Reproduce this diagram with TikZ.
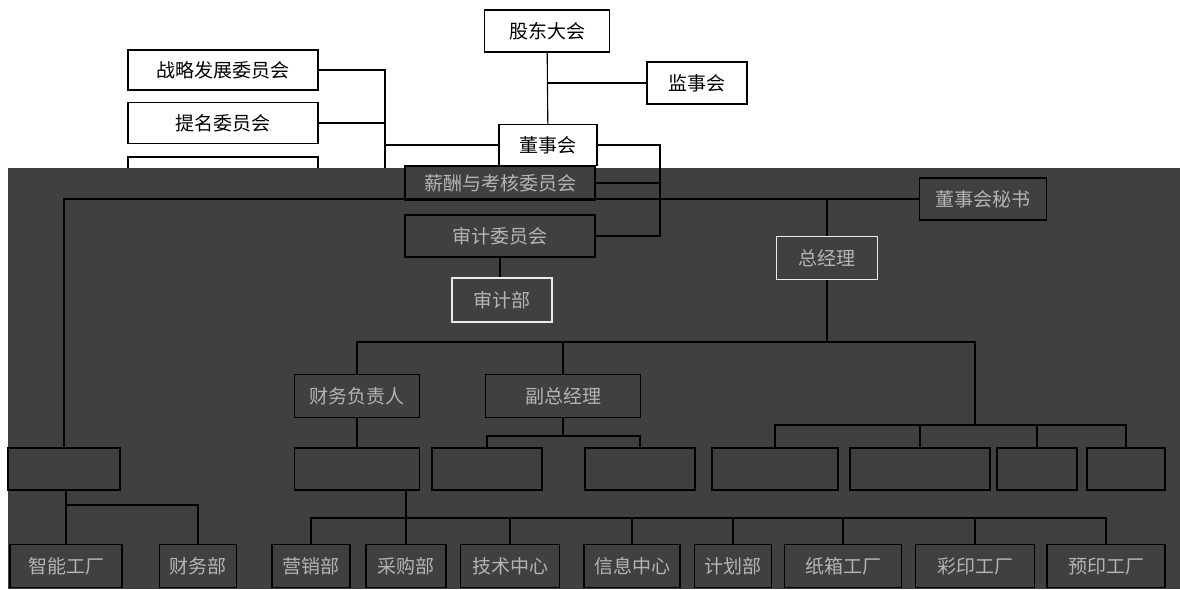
\documentclass[tikz,border=0pt]{standalone}
\usepackage{fontspec}
\setmainfont{Noto Sans CJK SC}
\definecolor{bandgray}{HTML}{404040}
\definecolor{bandtext}{HTML}{B4B4B4}
\tikzset{
  box/.style={draw, line width=1.1pt, inner sep=0pt, minimum height=42pt, fill=white, font=\fontsize{19}{21}\selectfont},
  bandbox/.style={box, draw=black, fill=bandgray, text=bandtext},
  litebox/.style={bandbox, draw=white!85!gray},
  wire/.style={line width=1.1pt, black},
}
\begin{document}
\begin{tikzpicture}[x=1pt, y=-1pt]
\useasboundingbox (0,0) rectangle (1180,589);
% board level
\node[box, minimum width=125pt] (gd) at (547,31) {股东大会};
\node[box, minimum width=100pt] (jsh) at (697,83) {监事会};
\node[box, minimum width=98pt, minimum height=41pt] (dsh) at (548,145) {董事会};
\node[box, minimum width=190pt, minimum height=40pt] (zl) at (223,70) {战略发展委员会};
\node[box, minimum width=190pt, minimum height=41pt] (tm) at (223,123) {提名委员会};
\node[box, minimum width=190pt] (wy) at (223,178) {};
\coordinate (lb) at (385,178);
\draw[wire] (gd) -- (dsh);
\draw[wire] (jsh.west) -- (jsh.west -| gd.south);
\draw[wire] (zl.east) -| (lb) -- (wy.east);
\draw[wire] (tm.east) -- (tm.east -| lb);
\draw[wire] (dsh.west) -- (dsh.west -| lb);
% lower band
\fill[bandgray] (8,168) rectangle (1180,589);
\node[bandbox, minimum width=190pt, minimum height=34pt] (xc) at (500,183) {薪酬与考核委员会};
\node[bandbox, minimum width=190pt] (sj) at (500,236) {审计委员会};
\node[litebox, minimum width=100pt, minimum height=44pt] (sjb) at (502,300) {审计部};
\node[bandbox, minimum width=127pt] (ms) at (983,199) {董事会秘书};
\node[litebox, minimum width=101pt, minimum height=43pt] (zjl) at (827,258) {总经理};
\node[bandbox, minimum width=125pt, minimum height=43pt] (cw) at (357,396) {财务负责人};
\node[bandbox, minimum width=155pt, minimum height=43pt] (fz) at (563,396) {副总经理};
% middle row
\foreach \n/\x/\w in {m1/64/112, m2/357/125, m3/487/110, m4/640/110, m5/775/126, m6/920/140, m7/1037/80, m8/1126/78}
  \node[bandbox, minimum width=\w pt, minimum height=42pt] (\n) at (\x,469) {};
% departments
\foreach \n/\x/\w/\t in {zngc/66/112/智能工厂, cwb/198/77/财务部, yxb/311/78/营销部, cgb/406/80/采购部, jszx/510/99/技术中心, xxzx/632/96/信息中心, jhb/733/77/计划部, zxgc/843/117/纸箱工厂, cygc/975/119/彩印工厂, yygc/1106/118/预印工厂}
  \node[bandbox, minimum width=\w pt, minimum height=43pt] (\n) at (\x,566) {\t};
\coordinate (rb) at (660,236);
\coordinate (gb) at (827,342);
\coordinate (rv) at (975,425);
\coordinate (fb) at (563,436);
\coordinate (lj) at (66,505);
\coordinate (bb) at (406,518);
\draw[wire] (dsh.east) -| (rb) -- (sj.east);
\draw[wire] (xc.east) -- (xc.east -| rb);
\draw[wire] (m1.north) |- (ms.west);
\draw[wire] (zjl.north) -- (zjl.north |- ms.west);
\draw[wire] (sj.south) -- (sj.south |- sjb.north);
\draw[wire] (zjl.south) -- (gb);
\draw[wire] (cw.north) |- (rv |- gb) -- (rv);
\draw[wire] (fz.north) -- (fz.north |- gb);
\draw[wire] (m5.north) |- (rv) -| (m8.north);
\foreach \n in {m6,m7} \draw[wire] (\n.north) -- (\n.north |- rv);
\draw[wire] (fz.south) -- (fb);
\draw[wire] (m3.north) |- (fb) -| (m4.north);
\draw[wire] (cw.south) -- (m2.north);
\draw[wire] (m1.south -| zngc.north) -- (zngc.north);
\draw[wire] (lj) -| (cwb.north);
\draw[wire] (m2.south -| cgb.north) -- (cgb.north);
\draw[wire] (yxb.north) |- (bb) -| (yygc.north);
\foreach \n in {jszx,xxzx,jhb,zxgc,cygc} \draw[wire] (\n.north) -- (\n.north |- bb);
\end{tikzpicture}
\end{document}
